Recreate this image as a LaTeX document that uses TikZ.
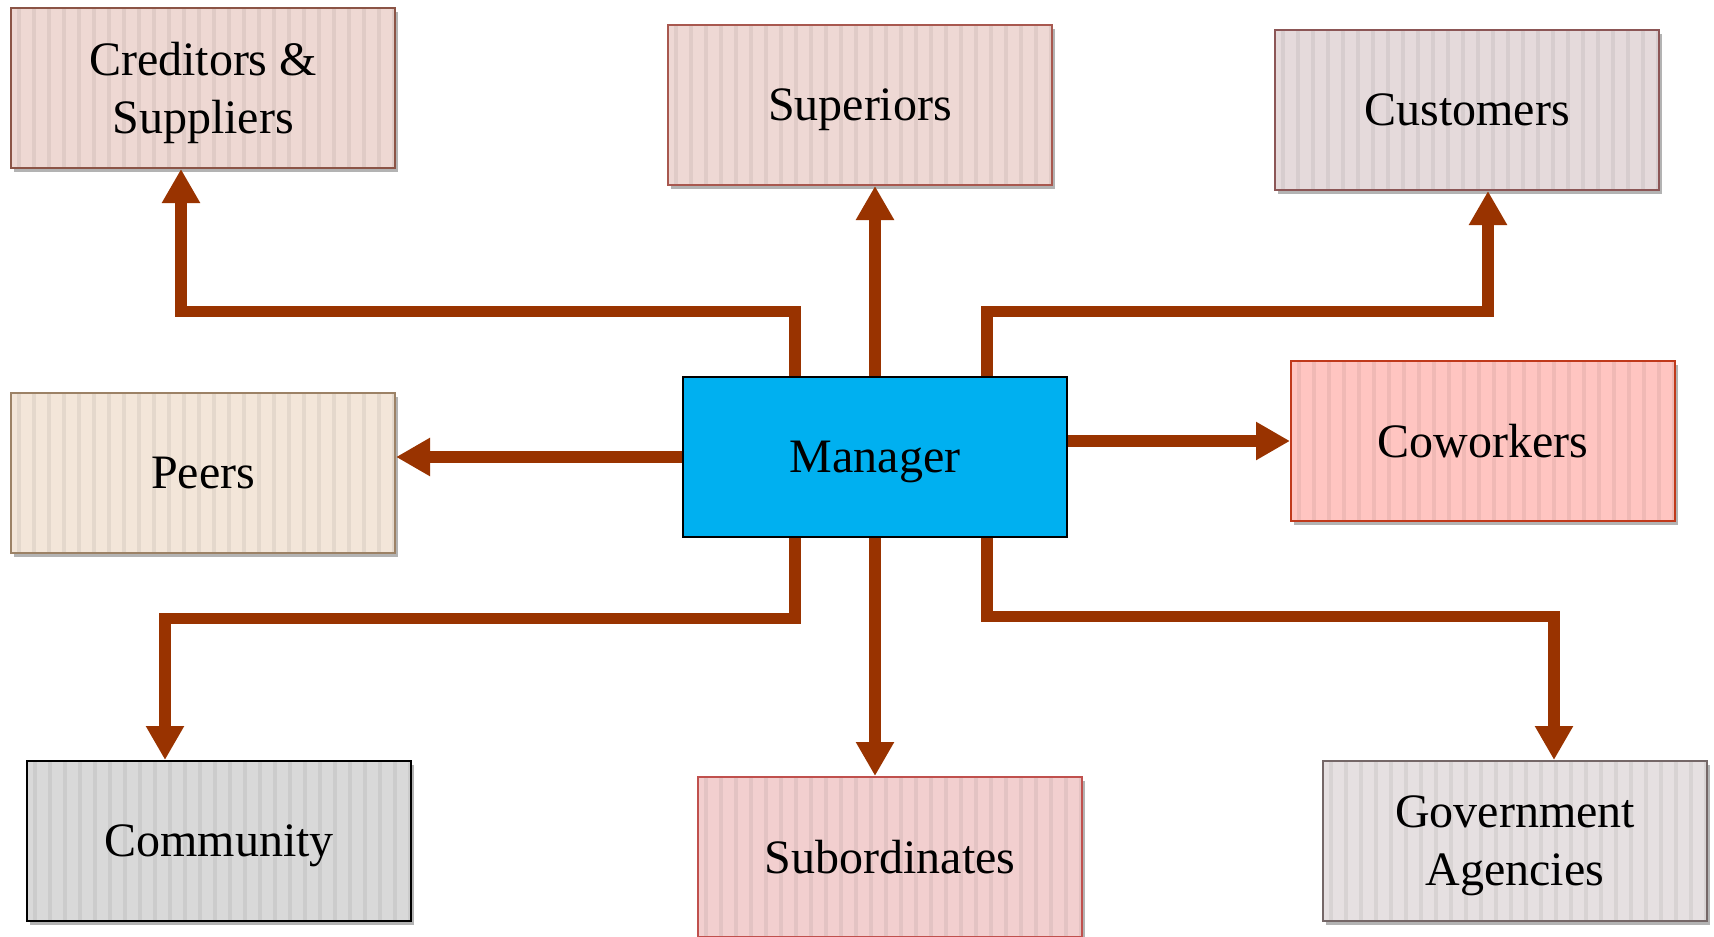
\documentclass[tikz,border=0pt]{standalone}
\usepackage{fontspec}
\setmainfont{Liberation Serif}
\usetikzlibrary{arrows.meta,shadows}

\definecolor{linkcol}{RGB}{153,51,0}
\definecolor{mgrfill}{RGB}{0,176,240}
\definecolor{credfill}{RGB}{238,216,211}  \definecolor{credline}{RGB}{139,84,70}
\definecolor{supfill}{RGB}{238,216,212}   \definecolor{supline}{RGB}{168,88,79}
\definecolor{custfill}{RGB}{229,218,219}  \definecolor{custline}{RGB}{140,86,86}
\definecolor{peerfill}{RGB}{243,230,217}  \definecolor{peerline}{RGB}{156,130,102}
\definecolor{cowfill}{RGB}{255,197,193}   \definecolor{cowline}{RGB}{192,57,27}
\definecolor{commfill}{RGB}{217,217,217}  \definecolor{commline}{RGB}{0,0,0}
\definecolor{subfill}{RGB}{242,207,207}   \definecolor{subline}{RGB}{192,80,77}
\definecolor{govfill}{RGB}{230,224,225}   \definecolor{govline}{RGB}{117,103,103}

\begin{document}
\begin{tikzpicture}[x=0.5pt,y=-0.5pt,
    stake/.style 2 args={draw=#2, fill=#1, line width=1pt,
      minimum width=192pt, minimum height=80pt, inner sep=0pt, align=center,
      font=\fontsize{24}{29}\selectfont, text depth=0pt,
      drop shadow={shadow xshift=1.5pt, shadow yshift=-2pt, opacity=0.6},
      path picture={
        \foreach \i in {0,...,25}
        \fill[#1!94!black] ([xshift=\i*7.5pt+3pt]path picture bounding box.south west) rectangle ++(1.8pt,100pt);
      }},
    link/.style={draw=linkcol, line width=5.7pt, -{Triangle[length=17pt,width=18pt]}}]

  \useasboundingbox (0,0) rectangle (1714,937);

  % the boxes
  \node[stake={credfill}{credline}] (cred)  at (203,88)   {Creditors \&\\ Suppliers};
  \node[stake={supfill}{supline}]   (sup)   at (860,105)  {Superiors};
  \node[stake={custfill}{custline}] (cust)  at (1467,110) {Customers};
  \node[stake={peerfill}{peerline}] (peers) at (203,473)  {Peers};
  \node[stake={cowfill}{cowline}]   (cow)   at (1483,441) {Coworkers};
  \node[stake={commfill}{commline}] (comm)  at (219,841)  {Community};
  \node[stake={subfill}{subline}]   (sub)   at (890,857)  {Subordinates};
  \node[stake={govfill}{govline}]   (gov)   at (1515,841) {Government\\ Agencies};

  \node[draw=black, fill=mgrfill, line width=1.3pt, minimum width=192pt, minimum height=80pt,
        inner sep=0pt, text depth=0pt, font=\fontsize{24}{29}\selectfont] (mgr) at (875,457) {Manager};

  % upward links
  \draw[link] ([xshift=-40pt]mgr.north) -- ++(0,-64) -| ([xshift=-11pt]cred.south);
  \draw[link] (mgr.north) -- (mgr.north |- sup.south);
  \draw[link] ([xshift=56pt]mgr.north) -- ++(0,-64) -| ([xshift=10.5pt]cust.south);

  % sideways links
  \draw[link] (mgr.west) -- (mgr.west -| peers.east);
  \draw[link] (mgr.east |- cow.west) -- (cow.west);

  % downward links
  \draw[link] ([xshift=-40pt]mgr.south) -- ++(0,80) -| ([xshift=-27pt]comm.north);
  \draw[link] (mgr.south) -- (mgr.south |- sub.north);
  \draw[link] ([xshift=56pt]mgr.south) -- ++(0,78) -| ([xshift=19.5pt]gov.north);

\end{tikzpicture}
\end{document}
